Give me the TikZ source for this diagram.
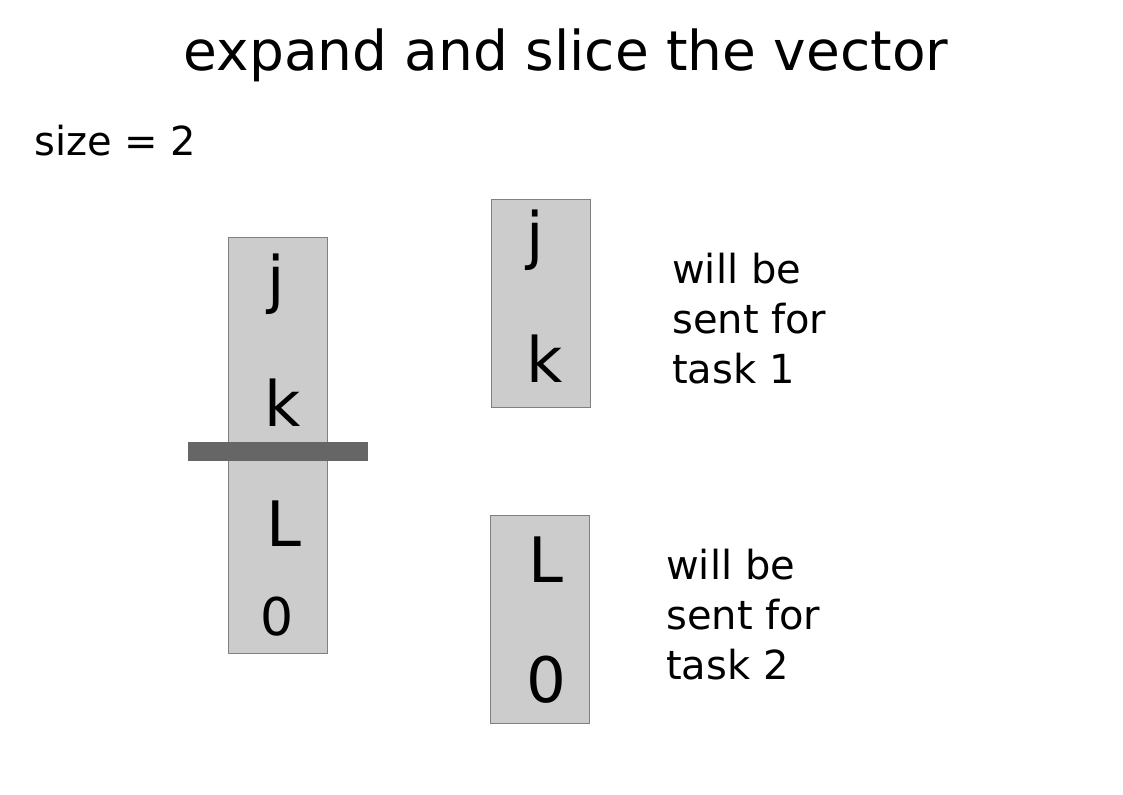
\documentclass[tikz,border=0pt]{standalone}
\usepackage{fontspec}
\setmainfont{DejaVu Sans}
\begin{document}
\begin{tikzpicture}[x=0.75pt,y=-0.75pt,
  vec/.style={draw=black!50,fill=black!20,line width=0.75pt,inner sep=0pt,minimum width=74.25pt,anchor=north west},
  glyph/.style={inner sep=0pt,anchor=base,font=\fontsize{47}{50}\selectfont},
  note/.style={inner sep=0pt,anchor=base west,align=left,font=\fontsize{30}{37.5}\selectfont}]
\useasboundingbox (0,0) rectangle (1123,794);
\node[inner sep=0pt,anchor=base,font=\fontsize{41.2}{50}\selectfont] (title) at (566,70) {expand and slice the vector};
\node[inner sep=0pt,anchor=base west,font=\fontsize{30}{40}\selectfont] (size) at (34,155) {size = 2};
% left vector
\node[vec,minimum height=312pt] (lbox) at (228,237) {};
\node[draw=none,fill=black!60,inner sep=0pt,minimum width=135pt,minimum height=14.25pt,anchor=north west] (bar) at (188,442) {};
\node[glyph] (lj) at (276,301) {j};
\node[glyph] (lk) at (283,426) {k};
\node[glyph] (lL) at (284,546) {L};
\node[glyph,font=\fontsize{39}{45}\selectfont] (l0) at (277,635) {0};
% right top
\node[vec,minimum height=156pt] (tbox) at (491,199) {};
\node[glyph] (tj) at (535,257) {j};
\node[glyph] (tk) at (545,382) {k};
% right bottom
\node[vec,minimum height=156pt] (bbox) at (490,515) {};
\node[glyph] (bL) at (546,582) {L};
\node[glyph] (b0) at (546,702) {0};
% notes
\node[note] (n1) at (672,383) {will be\\sent for\\task 1};
\node[note] (n2) at (666,679) {will be\\sent for\\task 2};
\end{tikzpicture}
\end{document}
